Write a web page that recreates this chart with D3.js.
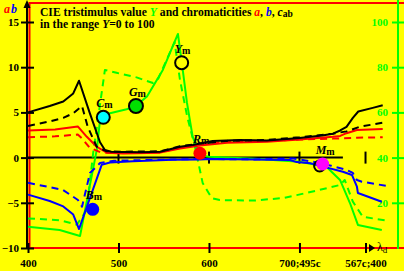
<!DOCTYPE html>
<html>
<head>
<meta charset="utf-8">
<script src="https://cdn.jsdelivr.net/npm/d3@7"></script>
<style>
  body { margin: 0; background: #ffff00; }
  svg { display: block; font-family: "Liberation Serif", "Times New Roman", serif; font-weight: bold; }
</style>
</head>
<body>
<script>
// x positions are on a wavelength-like scale: 400..700 nm, then 700..773 = 495c..567c
var xTicks = [400, 500, 600, 700, 773];
var xTickLabels = ["400", "500", "600", "700;495c", "567c;400"];
var abTicks = [-10, -5, 0, 5, 10, 15];
var yTicks = [20, 40, 60, 80, 100];

// chroma cab (black), a (red), b (blue): solid and dashed
var cabSolid = [[400,5.0],[424,5.7],[439,6.2],[450,7.1],[456.4,8.5],[468,5.0],[479.6,1.7],[485,0.85],[492,0.65],[505,0.62],[525,0.6],[546,0.65],[568,1.2],[582,1.4],[604,1.85],[634,1.95],[664,1.9],[700,2.17],[725,2.45],[737,2.65],[745,3.0],[752,3.4],[759,4.4],[765,5.1],[781,5.5],[792,5.8]];
var cabDash = [[400,3.5],[424,4.0],[439,4.4],[450,4.9],[459.7,5.7],[466,3.4],[476,1.2],[487,0.7],[505,0.65],[546,0.7],[568,1.25],[590,1.55],[620,1.85],[664,1.95],[700,2.25],[737,2.65],[752,2.9],[767,3.42],[792,3.86]];
var aSolid = [[400,3.0],[430,3.1],[455,3.45],[465,2.3],[476,1.2],[487,0.55],[505,0.45],[546,0.55],[568,1.0],[590,1.35],[620,1.65],[664,1.75],[700,2.0],[737,2.3],[745,2.4],[752,2.7],[763.5,3.05],[792,3.15]];
var aDash = [[400,2.25],[430,2.35],[455,2.55],[460,2.1],[468,1.1],[480,0.6],[495,0.5],[546,0.6],[568,1.1],[590,1.45],[620,1.75],[664,1.85],[700,2.0],[737,2.1],[763.5,2.2],[792,2.25]];
var bSolid = [[400,-4.1],[424,-4.8],[439,-5.4],[450,-6.3],[456.4,-7.9],[481.4,-0.8],[490.6,-0.55],[516,-0.4],[560,-0.25],[590,-0.2],[603,-0.15],[650,-0.22],[689.5,-0.27],[697,-0.5],[712,-0.63],[726,-1.0],[748,-1.56],[758,-1.92],[763.5,-3.22],[764.6,-3.92],[791,-4.88]];
var bDash = [[400,-2.78],[438.7,-3.58],[455.2,-4.69],[459.7,-5.43],[468.5,-1.7],[479.6,-0.6],[495,-0.35],[540,-0.25],[590,-0.15],[650,-0.2],[693,-0.1],[712,-0.4],[735,-0.9],[752.5,-1.37],[759,-1.7],[763.5,-2.48],[769,-2.67],[796.7,-3.14]];

// tristimulus value Y (green), right axis
var ySolid = [[400,9.4],[435,8.0],[457.5,5.3],[476,43.4],[480,58.1],[490.6,59.6],[509,61.4],[519,62.8],[531.5,67],[549,78.8],[565.7,94.7],[571,78.8],[575.7,64.2],[582,49.2],[590,41],[600,40.4],[650,39.5],[700,38.2],[726,36.3],[731.5,35.3],[744.8,30.1],[755.8,19.9],[764.6,10.2],[791,8.0]];
var yDash = [[400,13.1],[435,12.3],[454,10.3],[465,16.9],[472,42],[485,78.8],[499,77.4],[520,75.5],[538,73],[544,75],[549,79.5],[562,91.1],[568,74.3],[576,58],[584.5,44.8],[593,28.8],[603,22.1],[612,21.2],[650,21],[682,22.1],[697,23.4],[720,25.5],[745,27.9],[750,30.1],[759,20.5],[770,13.8],[797,12.1]];

// marked colours
var markNames = ["C", "G", "Y", "R", "M", "B"];
var markX = [483.2, 519.3, 569.8, 590, 725.6, 471.5];
var markAB = [4.46, 5.71, 10.5, 0.48, -0.71, -5.72];
var markFill = ["#00ffff", "#00e000", "#ffff00", "#ff0000", "#ff00ff", "#0000ff"];

var svgWidth = 404, svgHeight = 271;

var svg = d3.select("body").append("svg")
  .attr("width", svgWidth)
  .attr("height", svgHeight);

svg.append("rect").attr("width", svgWidth).attr("height", svgHeight).attr("fill", "#ffff00");

var x = d3.scaleLinear().domain([400, 810]).range([28, 399]);
var yab = d3.scaleLinear().domain([-10, 15]).range([248, 22]);
var yY = d3.scaleLinear().domain([0, 100]).range([248, 22]);

// red frame
svg.append("rect")
  .attr("x", 29.5).attr("y", 3)
  .attr("width", 390).attr("height", yab(-10) - 3)
  .attr("fill", "none").attr("stroke", "#ff0000").attr("stroke-width", 2);

// left axis line with arrow
svg.append("line").attr("x1", 27).attr("x2", 27).attr("y1", 249).attr("y2", 4)
  .attr("stroke", "#000").attr("stroke-width", 2);
svg.append("path").attr("d", "M27,0 L23.5,8 L30.5,8 Z").attr("fill", "#000");

var leftAxis = d3.axisLeft(yab).tickValues(abTicks).tickSizeInner(6).tickSizeOuter(0).tickPadding(2);
svg.append("g")
  .attr("transform", "translate(27,0)")
  .call(leftAxis)
  .call(g => g.select(".domain").remove())
  .call(g => g.selectAll(".tick line").attr("x1", 7).attr("stroke", "#000").attr("stroke-width", 2))
  .call(g => g.selectAll(".tick text").attr("fill", "#000").attr("font-size", 11)
    .attr("font-family", "Liberation Serif").attr("font-weight", "bold"));

// right green axis
svg.append("line").attr("x1", 398).attr("x2", 398).attr("y1", 0).attr("y2", 249)
  .attr("stroke", "#00ff00").attr("stroke-width", 2);
var rightAxis = d3.axisLeft(yY).tickValues(yTicks).tickSizeInner(6).tickSizeOuter(0).tickPadding(4);
svg.append("g")
  .attr("transform", "translate(398,0)")
  .call(rightAxis)
  .call(g => g.select(".domain").remove())
  .call(g => g.selectAll(".tick line").attr("x1", 7).attr("stroke", "#00ff00").attr("stroke-width", 2))
  .call(g => g.selectAll(".tick text").attr("fill", "#00ff00").attr("font-size", 11)
    .attr("font-family", "Liberation Serif").attr("font-weight", "bold"));

// bottom axis
var bottomAxis = d3.axisBottom(x).tickValues(xTicks)
  .tickFormat((d, i) => xTickLabels[i]).tickSizeInner(5).tickSizeOuter(0);
svg.append("g")
  .attr("transform", "translate(0," + yab(-10) + ")")
  .call(bottomAxis)
  .call(g => g.select(".domain").remove())
  .call(g => g.selectAll(".tick line").attr("y1", -5).attr("stroke", "#000").attr("stroke-width", 2))
  .call(g => g.selectAll(".tick text").attr("fill", "#000").attr("font-size", 11)
    .attr("font-family", "Liberation Serif").attr("font-weight", "bold")
    .attr("y", 19).attr("dy", 0));

// lambda_d arrow
svg.append("path").attr("d", "M369,244 L375,248 L369,252 Z").attr("fill", "#000");
svg.append("text").attr("x", 377).attr("y", 251).attr("font-size", 12).attr("font-weight", "normal")
  .text("λ").append("tspan").attr("font-size", 9).attr("dy", 2).text("d");

// zero line with ticks
svg.append("line")
  .attr("x1", x(400)).attr("x2", x(748)).attr("y1", yab(0)).attr("y2", yab(0))
  .attr("stroke", "#000").attr("stroke-width", 2);
svg.selectAll(".zt").data(xTicks.slice(1)).enter().append("line")
  .attr("x1", d => x(d)).attr("x2", d => x(d))
  .attr("y1", yab(0) - 6).attr("y2", yab(0) + 6)
  .attr("stroke", "#000").attr("stroke-width", 2);

// curves
var lineAB = d3.line().x(d => x(d[0])).y(d => yab(d[1]));
var lineY = d3.line().x(d => x(d[0])).y(d => yY(d[1]));

function drawCurve(data, gen, color, dashed) {
  svg.append("path")
    .datum(data)
    .attr("d", gen)
    .attr("fill", "none")
    .attr("stroke", color)
    .attr("stroke-width", 2)
    .attr("stroke-linejoin", "round")
    .attr("stroke-dasharray", dashed ? "7,5" : null);
}

drawCurve(yDash, lineY, "#00ff00", true);
drawCurve(ySolid, lineY, "#00ff00", false);
drawCurve(bDash, lineAB, "#0000ff", true);
drawCurve(bSolid, lineAB, "#0000ff", false);
drawCurve(aDash, lineAB, "#ff0000", true);
drawCurve(aSolid, lineAB, "#ff0000", false);
drawCurve(cabDash, lineAB, "#000000", true);
drawCurve(cabSolid, lineAB, "#000000", false);

// markers
markNames.forEach(function(n, i) {
  var cx = x(markX[i]), cy = yab(markAB[i]);
  var stroked = (n == "C" || n == "G" || n == "Y");
  if (n == "M") {
    svg.append("circle").attr("cx", cx - 3).attr("cy", cy + 2).attr("r", 5.5)
      .attr("fill", "none").attr("stroke", "#000").attr("stroke-width", 2);
  }
  svg.append("circle")
    .attr("cx", cx).attr("cy", cy)
    .attr("r", n == "G" ? 7 : 6.5)
    .attr("fill", markFill[i])
    .attr("stroke", stroked ? "#000" : "none")
    .attr("stroke-width", 2);
  var t = svg.append("text").attr("x", cx - 7).attr("y", cy - 10).attr("font-size", 12);
  t.append("tspan").attr("font-style", "italic").text(n);
  t.append("tspan").attr("font-size", 10).attr("dy", 1).text("m");
});

// axis name a b
var ab = svg.append("text").attr("x", 4).attr("y", 13).attr("font-size", 12).attr("font-style", "italic");
ab.append("tspan").attr("fill", "#ff0000").text("a");
ab.append("tspan").attr("fill", "#0000ff").attr("dx", 1).text("b");

// title
var t1 = svg.append("text").attr("x", 40).attr("y", 16).attr("font-size", 11.6);
t1.append("tspan").text("CIE tristimulus value ");
t1.append("tspan").attr("fill", "#00ff00").attr("font-style", "italic").text("Y");
t1.append("tspan").text(" and chromaticities ");
t1.append("tspan").attr("fill", "#ff0000").attr("font-style", "italic").text("a");
t1.append("tspan").text(", ");
t1.append("tspan").attr("fill", "#0000ff").attr("font-style", "italic").text("b");
t1.append("tspan").text(", ");
t1.append("tspan").attr("font-style", "italic").text("c");
t1.append("tspan").attr("font-size", 9.5).attr("dy", 1).text("ab");

var t2 = svg.append("text").attr("x", 40).attr("y", 28).attr("font-size", 11.6);
t2.append("tspan").text("in the range ");
t2.append("tspan").attr("font-style", "italic").text("Y");
t2.append("tspan").text("=0 to 100");
</script>
</body>
</html>
